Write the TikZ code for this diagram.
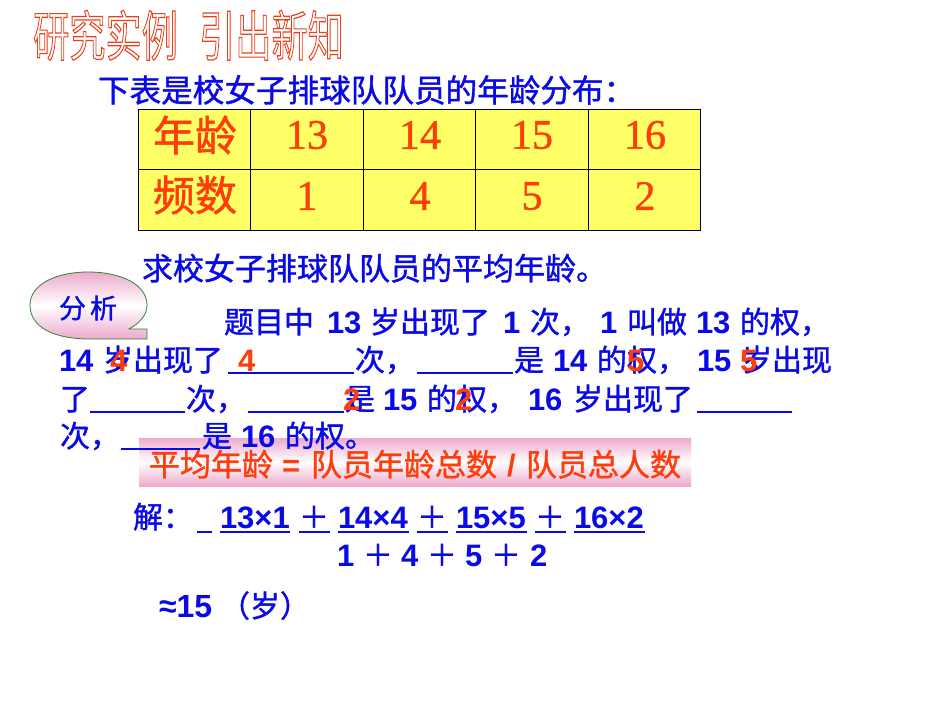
\documentclass[tikz,border=0pt]{standalone}
\usepackage{fontspec}
\setmainfont{Liberation Sans}[BoldFont={Liberation Sans Bold}]
\newfontfamily\cjk{Noto Sans CJK SC}[FakeBold=1.2]
\newfontfamily\cjktitle{Noto Sans CJK SC}
\newfontfamily\serifnum{Liberation Serif}[FakeBold=1]
\definecolor{bluetx}{RGB}{10,10,230}
\definecolor{redtx}{RGB}{255,60,10}
\definecolor{pinkbg}{RGB}{236,170,205}
\definecolor{cellbg}{RGB}{255,255,102}
\definecolor{callgreen}{RGB}{50,130,50}
\newcommand{\outl}{\special{pdf:code 1 Tr 1.2 w 0.92 0.25 0.1 RG}}
\newcommand{\outloff}{\special{pdf:code 0 Tr}}
\tikzset{
 x=1pt,y=-1pt,
 seg/.style={anchor=base west,inner sep=0pt,outer sep=0pt,text=bluetx,font=\fontsize{30}{30}\selectfont},
 zh/.style={seg,font=\cjk\fontsize{30}{30}\selectfont},
 zhb/.style={seg,font=\cjk\fontsize{31}{31}\selectfont},
 la/.style={seg,font=\bfseries\fontsize{31}{31}\selectfont},
 ans/.style={seg,text=redtx,font=\bfseries\fontsize{31}{31}\selectfont},
 ul/.style={draw=bluetx,line width=1.4pt},
 cell/.style={draw=black,line width=0.8pt,fill=cellbg},
 cellzh/.style={anchor=center,inner sep=0pt,text=redtx,font=\cjk\fontsize{42}{42}\selectfont},
 cellnum/.style={anchor=center,inner sep=0pt,text=redtx,font=\serifnum\fontsize{42}{42}\selectfont},
 title/.style={anchor=base west,inner sep=0pt,xscale=0.67,transform shape,font=\cjktitle\fontsize{54}{54}\selectfont},
}
\begin{document}
\begin{tikzpicture}
\useasboundingbox (0,0) rectangle (950,713);
\fill[white] (0,0) rectangle (950,713);
% title
\node[title] (t1) at (33,56) {\outl 研究实例\outloff};
\node[title] (t2) at (199,56) {\outl 引出新知\outloff};
\node[zhb,font=\cjk\fontsize{31.6}{31.6}\selectfont] (h1) at (98,102) {下表是校女子排球队队员的年龄分布：};
% table
\foreach \xa/\xb in {138.5/250.5,250.5/363.5,363.5/475.5,475.5/588.5,588.5/700.5}{
 \path[cell] (\xa,109) rectangle (\xb,169.5);
 \path[cell] (\xa,169.5) rectangle (\xb,230);
}
\node[cellzh] (c1) at (195,135) {年龄};
\node[cellzh] (c2) at (195,195) {频数};
\node[cellnum] (n1) at (307,135) {13};
\node[cellnum] (n2) at (420,135) {14};
\node[cellnum] (n3) at (532,135) {15};
\node[cellnum] (n4) at (645,135) {16};
\node[cellnum] (m1) at (307,196) {1};
\node[cellnum] (m2) at (420,196) {4};
\node[cellnum] (m3) at (532,196) {5};
\node[cellnum] (m4) at (645,196) {2};
\node[zhb] (h2) at (142,280) {求校女子排球队队员的平均年龄。};
% callout
\path[draw=callgreen,line width=0.8pt,top color=pinkbg,bottom color=pinkbg,middle color=white]
 (129,329) -- (147,329) -- (147,339) -- (90,339)
 .. controls (55,339) and (30,328) .. (30,305)
 .. controls (30,285) and (55,272) .. (88,272)
 .. controls (122,272) and (147,285) .. (147,305)
 .. controls (147,315) and (140,323) .. (129,329) -- cycle;
\node[anchor=center,inner sep=0pt,text=bluetx,font=\cjk\fontsize{27}{27}\selectfont] (fx) at (88,308) {分\hspace{4pt}析};
% pink bar
\path[top color=pinkbg,bottom color=pinkbg,middle color=white] (139,438) rectangle (691,486);
% line 1
\node[zh] (a1) at (224,333) {题目中};
\node[la] (a2) at (327,333) {13};
\node[zh] (a3) at (370,333) {岁出现了};
\node[la] (a4) at (503,333) {1};
\node[zh] (a5) at (530,333) {次，};
\node[la] (a6) at (600,333) {1};
\node[zh] (a7) at (627,333) {叫做};
\node[la] (a8) at (696,333) {13};
\node[zh] (a9) at (740,333) {的权，};
% line 2
\node[la] (b1) at (59,371) {14};
\node[zh] (b2) at (103,371) {岁出现了};
\draw[ul] (228,373) -- (354,373);
\node[zh] (b3) at (355,371) {次，};
\draw[ul] (417,373) -- (513,373);
\node[zh] (b4) at (514,371) {是};
\node[la] (b5) at (553,371) {14};
\node[zh] (b6) at (597,371) {的权，};
\node[la] (b7) at (697,371) {15};
\node[zh] (b8) at (742,371) {岁出现};
% line 3
\node[zh] (d1) at (60,410) {了};
\draw[ul] (90,412) -- (185,412);
\node[zh] (d2) at (186,410) {次，};
\draw[ul] (248,412) -- (344,412);
\node[zh] (d3) at (345,410) {是};
\node[la] (d4) at (383,410) {15};
\node[zh] (d5) at (427,410) {的权，};
\node[la] (d6) at (528,410) {16};
\node[zh] (d7) at (573,410) {岁出现了};
\draw[ul] (697,412) -- (792,412);
% line 4
\node[zh] (e1) at (60,447) {次，};
\draw[ul] (121,449) -- (200,449);
\node[zh] (e2) at (202,447) {是};
\node[la] (e3) at (241,447) {16};
\node[zh] (e4) at (285,447) {的权。};
% answers
\node[ans] (r1) at (110,371) {4};
\node[ans] (r2) at (238,371) {4};
\node[ans] (r3) at (627,371) {5};
\node[ans] (r4) at (740,371) {5};
\node[ans] (r5) at (343,410) {2};
\node[ans] (r6) at (455,410) {2};
% bar text
\node[zhb,text=redtx] (p1) at (149,476) {平均年龄};
\node[la,text=redtx] (p2) at (282,476) {=};
\node[zhb,text=redtx] (p3) at (311,476) {队员年龄总数};
\node[la,text=redtx] (p4) at (507,476) {/};
\node[zhb,text=redtx] (p5) at (526,476) {队员总人数};
% solution
\node[zh] (s0) at (133,528) {解：};
\draw[ul] (197,532) -- (212,532);
\node[la] (s1) at (220,528) {13×1};
\draw[ul] (220,532) -- (290,532);
\node[zh] (s2) at (299,528) {＋};
\draw[ul] (299,532) -- (330,532);
\node[la] (s3) at (338,528) {14×4};
\draw[ul] (338,532) -- (409,532);
\node[zh] (s4) at (417,528) {＋};
\draw[ul] (417,532) -- (448,532);
\node[la] (s5) at (456,528) {15×5};
\draw[ul] (456,532) -- (527,532);
\node[zh] (s6) at (535,528) {＋};
\draw[ul] (535,532) -- (566,532);
\node[la] (s7) at (574,528) {16×2};
\draw[ul] (574,532) -- (645,532);
\node[la] (q1) at (337,566) {1};
\node[zh] (q2) at (363,566) {＋};
\node[la] (q3) at (401,566) {4};
\node[zh] (q4) at (427,566) {＋};
\node[la] (q5) at (465,566) {5};
\node[zh] (q6) at (491,566) {＋};
\node[la] (q7) at (530,566) {2};
\node[la,font=\bfseries\fontsize{32}{32}\selectfont] (v1) at (159,617) {≈15};
\node[zh] (v2) at (220,617) {（岁）};
\end{tikzpicture}
\end{document}
